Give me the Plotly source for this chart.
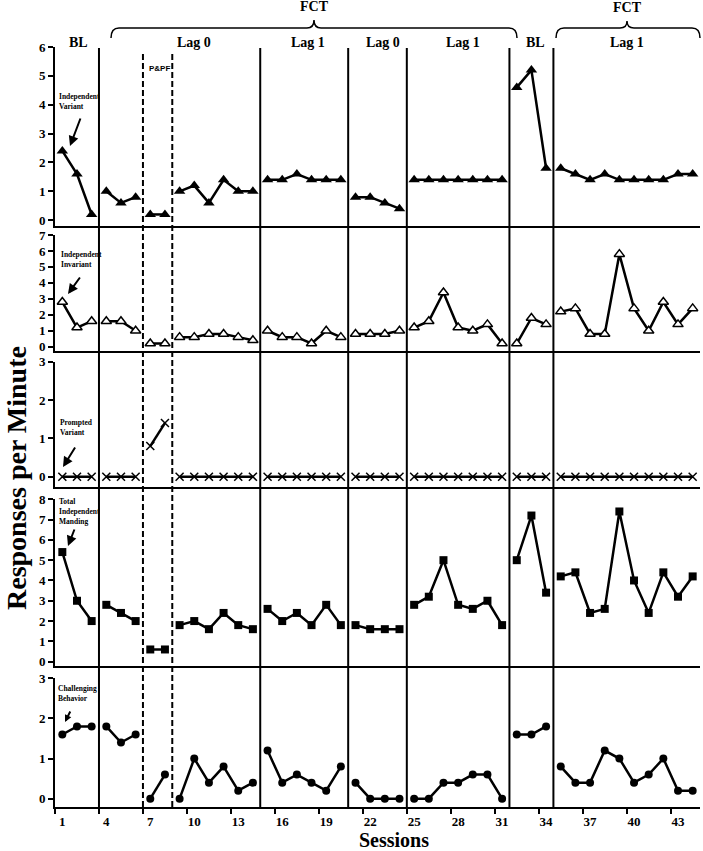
import plotly.graph_objects as go

# ---------------- data ----------------
sessions = list(range(1, 45))
phase_starts = [1, 4, 7, 9, 15, 21, 25, 32, 35]
solid_phase_lines = [3.5, 14.5, 20.5, 24.5, 31.5, 34.5]
dashed_phase_lines = [6.5, 8.5]
x_tick_vals = list(range(1, 45, 3))

indep_variant = [2.4, 1.6, 0.2, 1.0, 0.6, 0.8, 0.2, 0.2,
                 1.0, 1.2, 0.6, 1.4, 1.0, 1.0,
                 1.4, 1.4, 1.6, 1.4, 1.4, 1.4,
                 0.8, 0.8, 0.6, 0.4,
                 1.4, 1.4, 1.4, 1.4, 1.4, 1.4, 1.4,
                 4.6, 5.2, 1.8,
                 1.8, 1.6, 1.4, 1.6, 1.4, 1.4, 1.4, 1.4, 1.6, 1.6]
indep_invariant = [2.8, 1.2, 1.6, 1.6, 1.6, 1.0, 0.2, 0.2,
                   0.6, 0.6, 0.8, 0.8, 0.6, 0.4,
                   1.0, 0.6, 0.6, 0.2, 1.0, 0.6,
                   0.8, 0.8, 0.8, 1.0,
                   1.2, 1.6, 3.4, 1.2, 1.0, 1.4, 0.2,
                   0.2, 1.8, 1.4,
                   2.2, 2.4, 0.8, 0.8, 5.8, 2.4, 1.0, 2.8, 1.4, 2.4]
prompted_variant = [0, 0, 0, 0, 0, 0, 0.8, 1.4,
                    0, 0, 0, 0, 0, 0,
                    0, 0, 0, 0, 0, 0,
                    0, 0, 0, 0,
                    0, 0, 0, 0, 0, 0, 0,
                    0, 0, 0,
                    0, 0, 0, 0, 0, 0, 0, 0, 0, 0]
total_manding = [5.4, 3.0, 2.0, 2.8, 2.4, 2.0, 0.6, 0.6,
                 1.8, 2.0, 1.6, 2.4, 1.8, 1.6,
                 2.6, 2.0, 2.4, 1.8, 2.8, 1.8,
                 1.8, 1.6, 1.6, 1.6,
                 2.8, 3.2, 5.0, 2.8, 2.6, 3.0, 1.8,
                 5.0, 7.2, 3.4,
                 4.2, 4.4, 2.4, 2.6, 7.4, 4.0, 2.4, 4.4, 3.2, 4.2]
challenging = [1.6, 1.8, 1.8, 1.8, 1.4, 1.6, 0.0, 0.6,
               0.0, 1.0, 0.4, 0.8, 0.2, 0.4,
               1.2, 0.4, 0.6, 0.4, 0.2, 0.8,
               0.4, 0.0, 0.0, 0.0,
               0.0, 0.0, 0.4, 0.4, 0.6, 0.6, 0.0,
               1.6, 1.6, 1.8,
               0.8, 0.4, 0.4, 1.2, 1.0, 0.4, 0.6, 1.0, 0.2, 0.2]

# ---------------- layout geometry (pixels) ----------------
W, H = 703, 851
ML, MR, MT, MB = 55, 3, 47, 44
PW, PH = W - ML - MR, H - MT - MB


def pxx(xp):
    return (xp - ML) / PW


def pxy(yp):
    return (MT + PH - yp) / PH


SERIF = "Liberation Serif"
BLACK = "black"

panels = [
    dict(vals=indep_variant, ymax=6, rng=[-0.2, 6], top=47, bot=226,
         marker=dict(symbol="triangle-up", size=10, color=BLACK)),
    dict(vals=indep_invariant, ymax=7, rng=[-0.25, 7], top=235, bot=350.7,
         marker=dict(symbol="triangle-up", size=9, color="white",
                     line=dict(color=BLACK, width=1.5))),
    dict(vals=prompted_variant, ymax=3, rng=[-0.26, 3], top=361.7, bot=486.7,
         marker=dict(symbol="x-thin", size=8, color=BLACK,
                     line=dict(color=BLACK, width=1.5))),
    dict(vals=total_manding, ymax=8, rng=[-0.2, 8], top=499.3, bot=665.7,
         marker=dict(symbol="square", size=8, color=BLACK)),
    dict(vals=challenging, ymax=3, rng=[-0.2, 3], top=678.3, bot=806.7,
         marker=dict(symbol="circle", size=8, color=BLACK)),
]


def segmented(vals):
    xs, ys = [], []
    for s, v in zip(sessions, vals):
        if s in phase_starts and s != phase_starts[0]:
            xs.append(None)
            ys.append(None)
        xs.append(s)
        ys.append(v)
    return xs, ys


fig = go.Figure()
layout_axes = {}
for i, p in enumerate(panels, start=1):
    xs, ys = segmented(p["vals"])
    sfx = "" if i == 1 else str(i)
    fig.add_trace(go.Scatter(
        x=xs, y=ys, mode="lines+markers",
        line=dict(color=BLACK, width=2.5),
        marker=p["marker"], cliponaxis=False, showlegend=False,
        xaxis="x" + sfx, yaxis="y" + sfx, connectgaps=False,
    ))
    last = i == len(panels)
    xa = dict(
        domain=[0, 1], range=[0.5, 44.5], anchor="y" + sfx,
        showline=True, linecolor=BLACK, linewidth=2,
        showgrid=False, zeroline=False, automargin=False,
        showticklabels=last, ticks="",
    )
    if last:
        xa.update(
            tickvals=x_tick_vals,
            tickfont=dict(family=SERIF, size=13, color=BLACK, weight="bold"),
            ticklabelstandoff=2,
            minor=dict(tick0=0.5, dtick=3, ticks="outside", ticklen=5,
                       tickwidth=2, tickcolor=BLACK),
        )
    ya = dict(
        domain=[pxy(p["bot"]), pxy(p["top"])], range=p["rng"],
        anchor="x" + sfx, showline=True, linecolor=BLACK, linewidth=2,
        showgrid=False, zeroline=False, automargin=False,
        tickvals=list(range(0, p["ymax"] + 1)),
        ticks="outside", ticklen=5, tickwidth=2, tickcolor=BLACK,
        tickfont=dict(family=SERIF, size=13, color=BLACK, weight="bold"),
    )
    layout_axes["xaxis" + sfx] = xa
    layout_axes["yaxis" + sfx] = ya

shapes = []
for xv in solid_phase_lines:
    shapes.append(dict(type="line", xref="x", yref="paper", x0=xv, x1=xv,
                       y0=0, y1=pxy(48), line=dict(color=BLACK, width=2)))
for xv in dashed_phase_lines:
    shapes.append(dict(type="line", xref="x", yref="paper", x0=xv, x1=xv,
                       y0=0, y1=pxy(53),
                       line=dict(color=BLACK, width=2, dash="6px,3px")))


def brace(x0, xm, x1, ytop, ybar, yend):
    pts = [
        ("M", [(x0, yend)]),
        ("Q", [(x0, ybar), (x0 + 8, ybar)]),
        ("L", [(xm - 7, ybar)]),
        ("Q", [(xm, ybar), (xm, ytop)]),
        ("Q", [(xm, ybar), (xm + 7, ybar)]),
        ("L", [(x1 - 8, ybar)]),
        ("Q", [(x1, ybar), (x1, yend)]),
    ]
    s = ""
    for cmd, coords in pts:
        s += cmd + " " + " ".join(f"{pxx(a):.5f},{pxy(b):.5f}" for a, b in coords) + " "
    return dict(type="path", xref="paper", yref="paper", path=s.strip(),
                line=dict(color=BLACK, width=1.5))


shapes.append(brace(111, 314, 517, 20, 28, 38))
shapes.append(brace(556, 627, 700, 21, 28, 38))

annotations = []


def text(xp, yp, t, size, family=SERIF, xanchor="center", angle=0):
    annotations.append(dict(
        xref="paper", yref="paper", x=pxx(xp), y=pxy(yp), text=t,
        showarrow=False, xanchor=xanchor, yanchor="middle", textangle=angle,
        font=dict(family=family, size=size, color=BLACK), align="left"))


# phase / condition labels
text(314, 6, "<b>FCT</b>", 14)
text(627, 7, "<b>FCT</b>", 14)
for xp, lab in [(78, "BL"), (194, "Lag 0"), (308, "Lag 1"), (383, "Lag 0"),
                (463, "Lag 1"), (535, "BL"), (627, "Lag 1")]:
    text(xp, 42, "<b>" + lab + "</b>", 14)
text(159, 68, "<b>P&amp;PF</b>", 8, family="Liberation Sans")

# series labels
text(57, 101.5, "<b>Independent<br>Variant</b>", 7.5, xanchor="left")
text(59, 259.5, "<b>Independent<br>Invariant</b>", 7.5, xanchor="left")
text(58, 427.5, "<b>Prompted<br>Variant</b>", 7.5, xanchor="left")
text(57, 511.7, "<b>Total<br>Independent<br>Manding</b>", 7.5, xanchor="left")
text(56, 693.5, "<b>Challenging<br>Behavior</b>", 7.5, xanchor="left")

# arrows (tail -> head)
for (tx, ty, hx, hy, sz) in [(81, 117, 70, 146, 1), (81, 276, 68, 294, 1),
                             (76, 446, 63, 467, 1), (75, 528, 68, 546, 1),
                             (71, 710, 65, 722, 0.7)]:
    annotations.append(dict(
        xref="paper", yref="paper", x=pxx(hx), y=pxy(hy),
        axref="pixel", ayref="pixel", ax=tx - hx, ay=ty - hy,
        text="", showarrow=True, arrowhead=2, arrowsize=sz, arrowwidth=2,
        arrowcolor=BLACK))

# axis titles
text(394, 840, "<b>Sessions</b>", 20)
text(16, 478, "<b>Responses per Minute</b>", 28, angle=-90)

fig.update_layout(
    width=W, height=H,
    margin=dict(l=ML, r=MR, t=MT, b=MB, pad=0, autoexpand=False),
    paper_bgcolor="white", plot_bgcolor="white",
    shapes=shapes, annotations=annotations,
    showlegend=False,
    **layout_axes,
)

fig.write_html(
    "out.html",
    config={"displayModeBar": False},
    post_script="document.body.style.margin='0';document.body.style.overflow='hidden';",
)
